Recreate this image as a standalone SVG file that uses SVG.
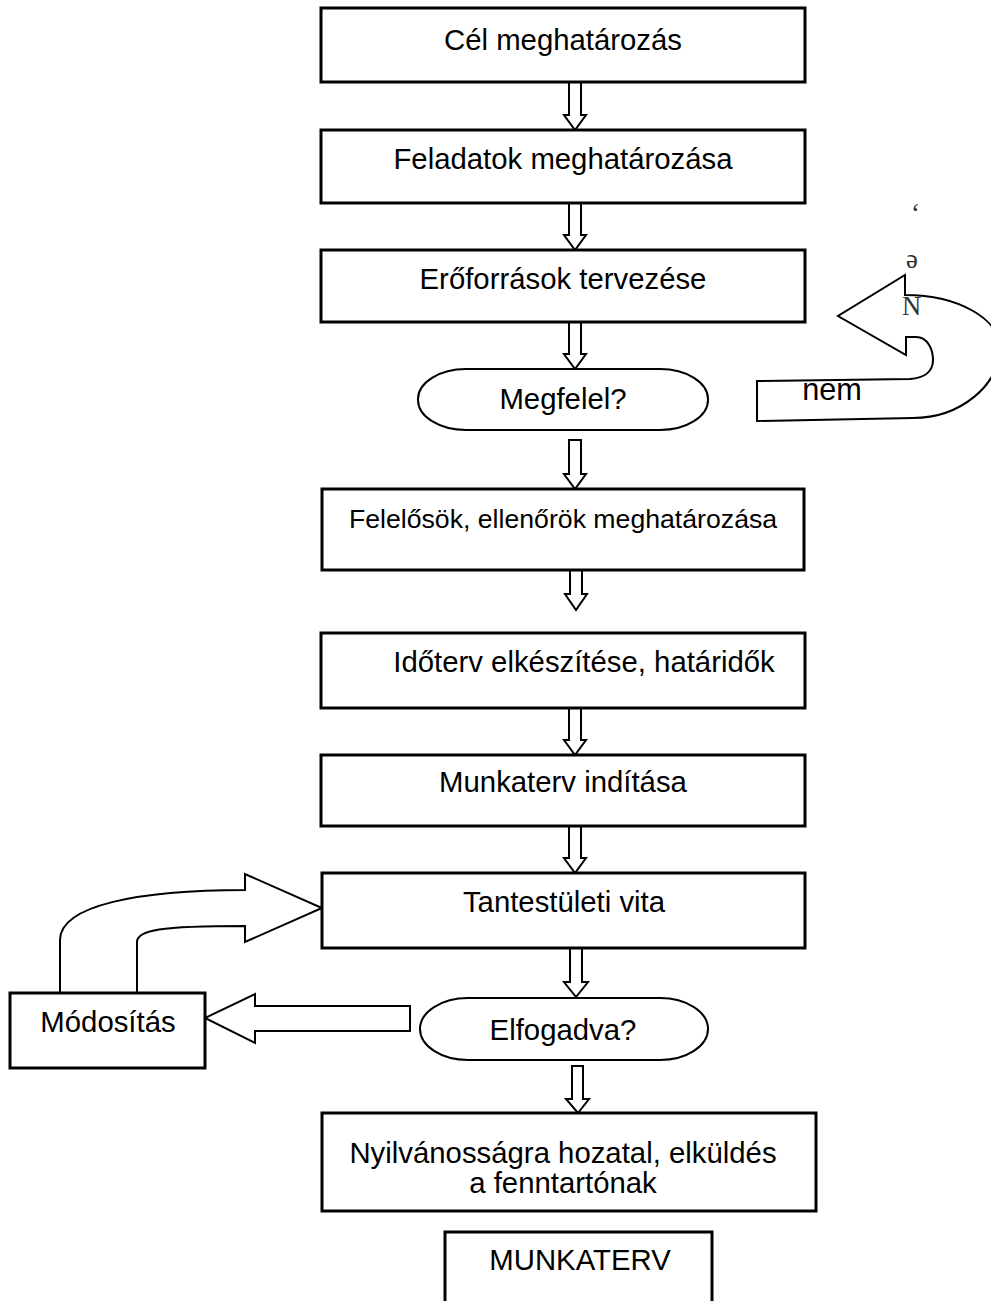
<svg xmlns="http://www.w3.org/2000/svg" width="991" height="1301" viewBox="0 0 991 1301">
<style>
.b{fill:#fff;stroke:#000;stroke-width:3}
.a{fill:#fff;stroke:#000;stroke-width:2;stroke-linejoin:miter}
.t{font-family:"Liberation Sans",Arial,sans-serif;font-size:29.33px;fill:#000;text-anchor:middle}
.sm{font-size:26.67px}
.s{font-family:"Liberation Serif","Times New Roman",serif;font-size:26.67px;fill:#333}
</style>
<rect width="991" height="1301" fill="#fff"/>
<g id="connectors">
<polygon class="a" points="569,82 581,82 581,115 586,115 575,130 564,115 569,115"/>
<polygon class="a" points="569,203 581,203 581,235 586,235 575,250 564,235 569,235"/>
<polygon class="a" points="569,322 581,322 581,354 586,354 575,369 564,354 569,354"/>
<polygon class="a" points="569,440 581,440 581,474 586,474 575,489 564,474 569,474"/>
<polygon class="a" points="570,562 582,562 582,594 587,594 576,610 565,594 570,594"/>
<polygon class="a" points="569,708 581,708 581,740 586,740 575,755 564,740 569,740"/>
<polygon class="a" points="569,826 581,826 581,858 586,858 575,873 564,858 569,858"/>
<polygon class="a" points="570,948 582,948 582,982 588,982 576,997 564,982 570,982"/>
<polygon class="a" points="572,1066 583,1066 583,1099 589,1099 578,1113 566,1099 572,1099"/>
<polygon class="a" points="410,1006 255,1006 255,994 205,1018 255,1043 255,1031 410,1031"/>
<path class="a" d="M60,993 L60,940 C60,905 140,890 245,890 L245,874 L322,908 L245,942 L245,926 C160,926 137,930 137,942 L137,993"/>
<path class="a" d="M757,381 L910,379 C925,378 933,371 933,360 C933,350 928,337 916,337 L906,337 L906,355 L838,316 L905,275 L905,295 C960,295 1000,320 1000,348 C1000,385 960,418 913,418 L757,421 Z"/>
</g>
<g id="n1"><rect class="b" x="321" y="8" width="484" height="74"/><text class="t" x="563" y="50">Cél meghatározás</text></g>
<g id="n2"><rect class="b" x="321" y="130" width="484" height="73"/><text class="t" x="563" y="169">Feladatok meghatározása</text></g>
<g id="n3"><rect class="b" x="321" y="250" width="484" height="72"/><text class="t" x="563" y="289">Erőforrások tervezése</text></g>
<g id="n4"><rect class="a" x="418" y="369" width="290" height="61" rx="48" ry="30"/><text class="t" x="563" y="409">Megfelel?</text></g>
<g id="nem"><text class="t" x="832" y="400" style="font-size:30.7px">nem</text></g>
<g id="stray"><text class="s" x="911" y="222">ʻ</text><text class="s" x="906" y="268">ə</text><text class="s" x="902" y="315">N</text></g>
<g id="n5"><rect class="b" x="322" y="489" width="482" height="81"/><text class="t sm" x="563" y="528">Felelősök, ellenőrök meghatározása</text></g>
<g id="n6"><rect class="b" x="321" y="633" width="484" height="75"/><text class="t" x="584" y="672">Időterv elkészítése, határidők</text></g>
<g id="n7"><rect class="b" x="321" y="755" width="484" height="71"/><text class="t" x="563" y="792">Munkaterv indítása</text></g>
<g id="n8"><rect class="b" x="322" y="873" width="483" height="75"/><text class="t" x="564" y="912">Tantestületi vita</text></g>
<g id="n9"><rect class="a" x="420" y="998" width="288" height="62" rx="48" ry="31"/><text class="t" x="563" y="1040">Elfogadva?</text></g>
<g id="n10"><rect class="b" x="10" y="993" width="195" height="75"/><text class="t" x="108" y="1032">Módosítás</text></g>
<g id="n11"><rect class="b" x="322" y="1113" width="494" height="98"/><text class="t" x="563" y="1163">Nyilvánosságra hozatal, elküldés</text><text class="t" x="563" y="1193">a fenntartónak</text></g>
<g id="n12"><rect class="b" x="445" y="1232" width="267" height="90"/><text class="t" x="580" y="1270">MUNKATERV</text></g>
</svg>
